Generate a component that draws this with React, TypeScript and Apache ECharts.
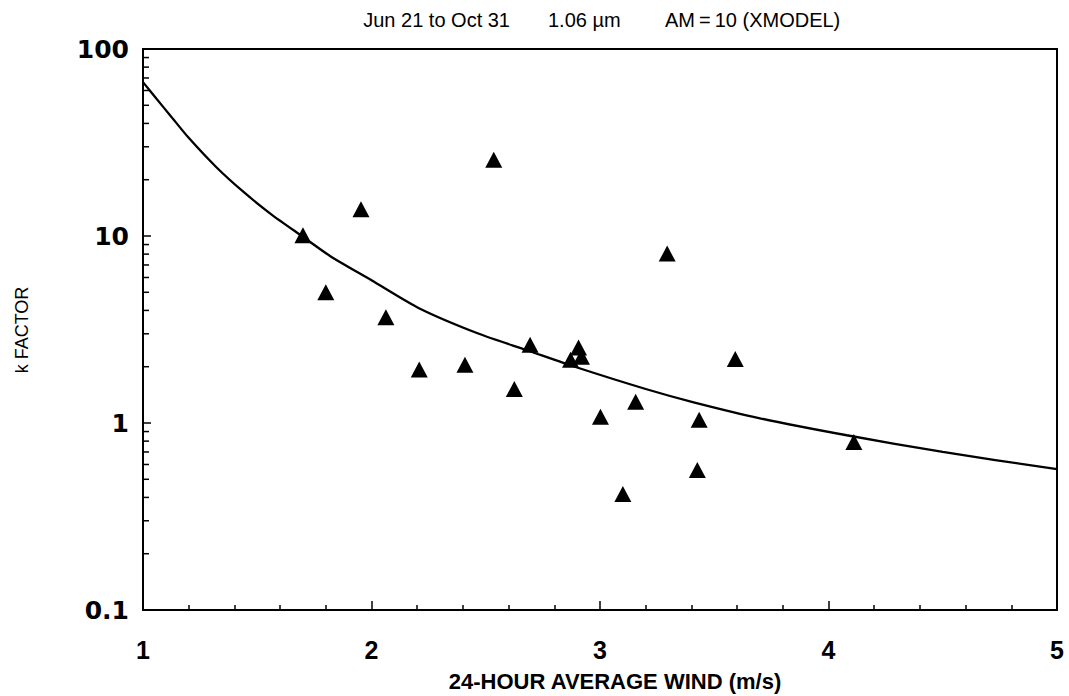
import React, { useEffect, useRef } from "react";
import * as echarts from "echarts";

// Observed data (triangles)
const windSpeed = [1.70, 1.80, 1.954, 2.063, 2.209, 2.409, 2.535, 2.625, 2.694, 2.871, 2.906, 2.919, 3.002, 3.100, 3.156, 3.294, 3.426, 3.434, 3.592, 4.111];
const kFactor = [10.1, 5.01, 13.9, 3.68, 1.93, 2.05, 25.6, 1.52, 2.62, 2.18, 2.53, 2.26, 1.08, 0.417, 1.30, 8.05, 0.561, 1.04, 2.20, 0.791];

// Model curve (XMODEL)
const curveWind = [1.0, 1.06, 1.12, 1.2, 1.32, 1.44, 1.56, 1.7, 1.82, 2.0, 2.21, 2.47, 2.68, 2.9, 3.2, 3.41, 3.7, 4.08, 4.5, 5.0];
const curveK = [66.5, 54, 44, 33.5, 23.4, 17.2, 13.1, 9.9, 7.8, 5.8, 4.1, 3.0, 2.45, 1.98, 1.52, 1.29, 1.06, 0.86, 0.7, 0.566];

// Tick positions
const yMinorTicks = [0.2, 0.3, 0.4, 0.5, 0.6, 0.7, 0.8, 0.9, 2, 3, 4, 5, 6, 7, 8, 9, 20, 30, 40, 50, 60, 70, 80, 90];

const titleParts = ["Jun 21 to Oct 31", "1.06 \u00b5m", "AM\u2009=\u200910 (XMODEL)"];
const xName = "24-HOUR AVERAGE WIND (m/s)";
const yName = "k FACTOR";

export default function App() {
  const ref = useRef<HTMLDivElement>(null);
  useEffect(() => {
    document.body.style.margin = "0";
    const chart = echarts.init(ref.current!, null, { renderer: "svg" });
    const font = "Liberation Sans, Arial, sans-serif";
    const option: any = {
      animation: false,
      backgroundColor: "#fff",
      grid: {
        left: 143,
        right: 12,
        top: 49,
        bottom: 86,
        show: true,
        borderColor: "#000",
        borderWidth: 2,
      },
      xAxis: {
        type: "value",
        min: 1,
        max: 5,
        interval: 1,
        axisLine: { show: true, lineStyle: { color: "#000", width: 2 } },
        axisTick: { show: true, inside: true, length: 9, lineStyle: { color: "#000", width: 1.5 } },
        minorTick: { show: true, splitNumber: 5, length: 5, lineStyle: { color: "#000", width: 1.5 } },
        splitLine: { show: false },
        axisLabel: {
          margin: 27,
          color: "#000",
          fontFamily: font,
          fontWeight: "bold",
          fontSize: 25,
        },
      },
      yAxis: {
        type: "log",
        logBase: 10,
        min: 0.1,
        max: 100,
        axisLine: { show: true, lineStyle: { color: "#000", width: 2 } },
        axisTick: { show: true, inside: true, length: 8, lineStyle: { color: "#000", width: 1.5 } },
        splitLine: { show: false },
        axisLabel: {
          margin: 14,
          color: "#000",
          fontFamily: "DejaVu Sans, sans-serif",
          fontWeight: "bold",
          fontSize: 25,
          formatter: (v: number) => (v < 1 ? v.toFixed(1) : String(Math.round(v))),
        },
      },
      graphic: [
        {
          type: "text",
          x: 510,
          y: 20,
          style: { text: titleParts[0], fontFamily: font, fontSize: 20, fill: "#000", align: "right", verticalAlign: "middle" },
        },
        {
          type: "text",
          x: 548,
          y: 20,
          style: { text: titleParts[1], fontFamily: font, fontSize: 20, fill: "#000", align: "left", verticalAlign: "middle" },
        },
        {
          type: "text",
          x: 665,
          y: 20,
          style: { text: titleParts[2], fontFamily: font, fontSize: 20, fill: "#000", align: "left", verticalAlign: "middle" },
        },
        {
          type: "text",
          x: 615,
          y: 681,
          style: {
            text: xName,
            fontFamily: font,
            fontWeight: "bold",
            fontSize: 22,
            fill: "#000",
            align: "center",
            verticalAlign: "middle",
          },
        },
        {
          type: "text",
          x: 22,
          y: 330,
          rotation: Math.PI / 2,
          style: {
            text: yName,
            fontFamily: font,
            fontSize: 18,
            fill: "#000",
            align: "center",
            verticalAlign: "middle",
          },
        },
      ],
      series: [
        {
          type: "line",
          data: curveWind.map((x, i) => [x, curveK[i]]),
          smooth: 0.25,
          symbol: "none",
          lineStyle: { color: "#000", width: 2.3 },
          silent: true,
          z: 3,
        },
        {
          type: "scatter",
          data: windSpeed.map((x, i) => [x, kFactor[i]]),
          symbol: "triangle",
          symbolSize: [17, 16],
          itemStyle: { color: "#000", opacity: 1 },
          z: 4,
        },
        {
          type: "scatter",
          data: yMinorTicks.map((v) => [1, v]),
          symbol: "rect",
          symbolSize: [6, 1.5],
          symbolOffset: [3, 0],
          itemStyle: { color: "#000", opacity: 1 },
          clip: false,
          silent: true,
          z: 5,
        },
      ],
    };
    chart.setOption(option);
    return () => chart.dispose();
  }, []);
  return <div ref={ref} style={{ width: 1069, height: 696, position: "absolute", left: 0, top: 0 }} />;
}
